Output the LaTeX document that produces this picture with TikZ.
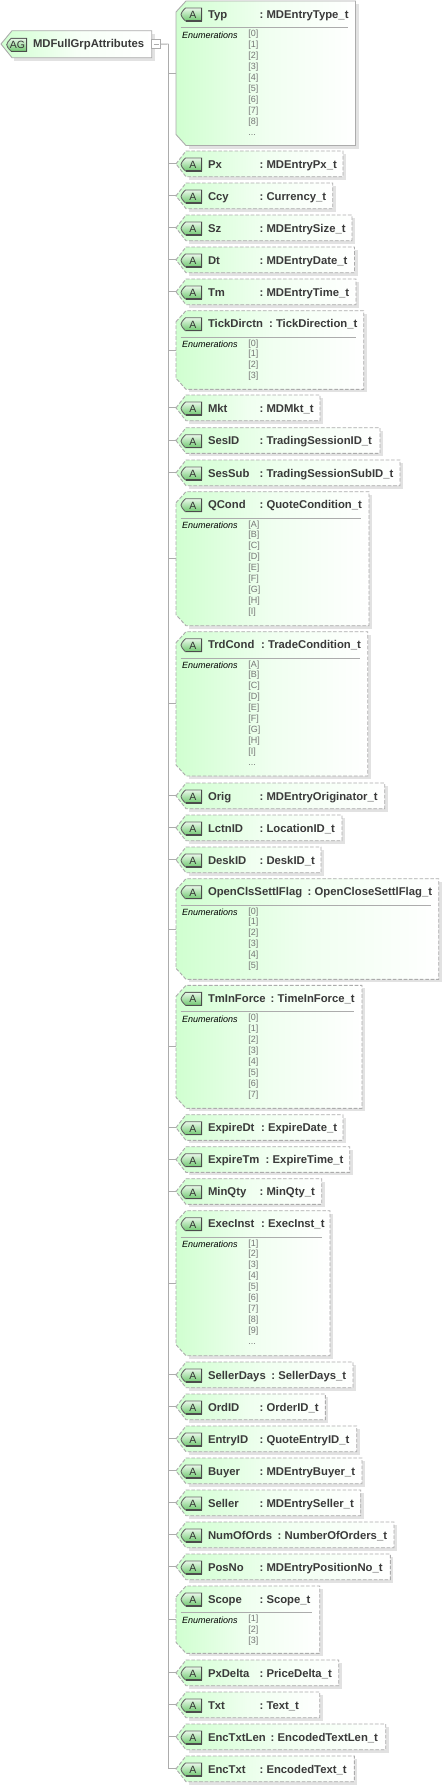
\documentclass[tikz,border=0pt]{standalone}
\usepackage{fontspec}
\setmainfont{Liberation Sans}
\usetikzlibrary{calc}
\definecolor{edge}{HTML}{ACACAC}
\definecolor{shadowc}{HTML}{E2E2E2}
\definecolor{lab}{HTML}{3A3A3A}
\definecolor{enumc}{HTML}{767676}
\definecolor{leftg}{HTML}{D0FFD0}
\definecolor{midg}{HTML}{F0FFF0}
\definecolor{icontop}{HTML}{E8F8E8}
\definecolor{iconbot}{HTML}{70C870}
\tikzset{
  x=1pt,y=-1pt,
  conn/.style={draw=edge,line width=0.9pt},
  boxfill/.style={left color=leftg,right color=white,middle color=midg},
  framesolid/.style={draw=edge,line width=0.9pt},
  framedash/.style={draw=edge,line width=0.9pt,dash pattern=on 3.6pt off 1.8pt},
  anchorbox/.style={inner sep=0pt,outer sep=0pt,draw=none,fill=none,anchor=north west},
  lbl/.style={inner sep=0pt,outer sep=0pt,anchor=base west,text=lab,font=\fontsize{11.3}{13}\selectfont\bfseries},
  enumhead/.style={inner sep=0pt,outer sep=0pt,anchor=base west,text=black,font=\fontsize{9}{11}\selectfont\itshape},
  enumval/.style={inner sep=0pt,outer sep=0pt,anchor=base west,text=enumc,font=\fontsize{9}{11}\selectfont},
  sepline/.style={draw=edge,line width=0.9pt},
  iconshape/.style={draw=black!60,line width=0.9pt,top color=icontop,bottom color=iconbot},
  icontext/.style={inner sep=0pt,outer sep=0pt,text=black!80,font=\fontsize{10.5}{12}\selectfont},
}
\newcommand{\icn}[3]{% x, top, width
  \shade[iconshape] (#1+4.5,#2) -- (#1+#3,#2) -- (#1+#3,#2+13) -- (#1+4.5,#2+13)
     .. controls (#1+1.5,#2+10) and (#1,#2+8) .. (#1,#2+6.5)
     .. controls (#1,#2+5) and (#1+1.5,#2+3) .. (#1+4.5,#2) -- cycle;
  \draw[black!70,line width=1.1pt] (#1+#3,#2) -- (#1+#3,#2+13) -- (#1+4.5,#2+13);
}
\newcommand{\attrbox}[9]{%
  \fill[shadowc] (189,#2+3) -- (#4+3,#2+3) -- (#4+3,#3+3) -- (189,#3+3) -- cycle;
  \shade[boxfill,#5] (176,#2+#9) -- (186,#2) -- (#4,#2) -- (#4,#3) -- (186,#3) -- (176,#3-#9) -- cycle;
  \path (176,#2) coordinate (#1-nw) (#4,#3) coordinate (#1-se);
  \coordinate (#1) at ($(#1-nw)!0.5!(#1-se)$);
  \icn{181}{#2+7}{20.7}
  \node[icontext] (#1-i) at (192.8,#2+13.7) {A};
  \node[lbl] (#1-n) at (208,#2+17) {#6};
  \node[lbl] (#1-c) at (#7,#2+17) {:};
  \node[lbl] (#1-t) at (#7+7,#2+17) {#8};
  \draw[conn] (trunk|-#1) -- (#1-nw|-#1);
}
\newcommand{\plainbox}[6]{\attrbox{#1}{#2}{#2+25.7}{#3}{framedash}{#4}{#5}{#6}{12.85}}
\newcommand{\enums}[4]{%
  \draw[sepline] (180.5,#2+26.6) -- (#3-8,#2+26.6);
  \node[enumhead] (#1-e) at (182,#2+37) {Enumerations};
  \foreach \vv [count=\kk from 0] in {#4} {
    \ifnum\kk=0 \def\yy{35.5}\else\pgfmathsetmacro{\yy}{35+11*\kk}\fi
    \node[enumval] (#1-v\kk) at (248.3,#2+\yy) {\vv};
  }
}
\newcommand{\enumdots}[3]{\node[enumval] (#1-dots) at (248.3,#2+35+11*#3) {...};}
\begin{document}
\begin{tikzpicture}
\useasboundingbox (0,0) rectangle (442,1786);
\fill[white] (0,0) rectangle (442,1786);
\coordinate (trunk) at (168.7,44);
\coordinate (trunkend) at (168.7,1768.8);
\draw[conn] (trunk) -- (trunkend);
% root
\fill[shadowc] (14,33.5) -- (155,33.5) -- (155,60.5) -- (14,60.5) -- cycle;
\shade[left color=leftg,right color=white,middle color=midg!60!white,draw=edge,line width=0.9pt] (1,44) -- (12,30.7) -- (151.7,30.7) -- (151.7,57.7) -- (12,57.7) -- cycle;
\icn{6.7}{38.3}{20}
\node[inner sep=0pt,outer sep=0pt,text=black!80,font=\fontsize{10.5}{12}\selectfont] (root-i) at (17.5,44.6) {AG};
\node[lbl] (root-n) at (33,47.5) {MDFullGrpAttributes};
\node[draw=edge,fill=white,line width=0.9pt,minimum width=9pt,minimum height=9pt,inner sep=0pt] (minus) at (156.2,44.2) {};
\draw[edge,line width=0.9pt] (153.5,44.2) -- (158.9,44.2);
\draw[conn] (minus.east) -- (trunk);
% boxes
\attrbox{typ}{1}{145.5}{355.5}{framesolid}{Typ}{259.5}{MDEntryType\_t}{11}
\enums{typ}{1}{355.5}{[0],[1],[2],[3],[4],[5],[6],[7],[8]}
\enumdots{typ}{1}{9}
\plainbox{px}{151}{343}{Px}{259.5}{MDEntryPx\_t}
\plainbox{ccy}{183}{332.7}{Ccy}{259.5}{Currency\_t}
\plainbox{sz}{215}{352}{Sz}{259.5}{MDEntrySize\_t}
\plainbox{dt}{247}{354.5}{Dt}{259.5}{MDEntryDate\_t}
\plainbox{tm}{279}{356}{Tm}{259.5}{MDEntryTime\_t}
\attrbox{tick}{310.7}{389.3}{363.7}{framedash}{TickDirctn}{269}{TickDirection\_t}{11}
\enums{tick}{310.7}{363.7}{[0],[1],[2],[3]}
\plainbox{mkt}{395}{320}{Mkt}{259.5}{MDMkt\_t}
\plainbox{sesid}{427.7}{380}{SesID}{259.5}{TradingSessionID\_t}
\plainbox{sessub}{460}{400}{SesSub}{259.5}{TradingSessionSubID\_t}
\attrbox{qcond}{491.7}{625.7}{369}{framedash}{QCond}{259.5}{QuoteCondition\_t}{11}
\enums{qcond}{491.7}{369}{[A],[B],[C],[D],[E],[F],[G],[H],[I]}
\attrbox{trd}{631.7}{776}{367.7}{framedash}{TrdCond}{261}{TradeCondition\_t}{11}
\enums{trd}{631.7}{367.7}{[A],[B],[C],[D],[E],[F],[G],[H],[I]}
\enumdots{trd}{631.7}{9}
\plainbox{orig}{783}{384.7}{Orig}{259.5}{MDEntryOriginator\_t}
\plainbox{lctn}{815}{342}{LctnID}{259.5}{LocationID\_t}
\plainbox{desk}{847}{321}{DeskID}{259.5}{DeskID\_t}
\attrbox{open}{878.7}{979.3}{438.7}{framedash}{OpenClsSettlFlag}{307.7}{OpenCloseSettlFlag\_t}{11}
\enums{open}{878.7}{438.7}{[0],[1],[2],[3],[4],[5]}
\attrbox{tif}{985.3}{1108.3}{362}{framedash}{TmInForce}{270.7}{TimeInForce\_t}{11}
\enums{tif}{985.3}{362}{[0],[1],[2],[3],[4],[5],[6],[7]}
\plainbox{expd}{1114.7}{343}{ExpireDt}{261}{ExpireDate\_t}
\plainbox{expt}{1146.7}{349.7}{ExpireTm}{265.7}{ExpireTime\_t}
\plainbox{minq}{1178.7}{321.7}{MinQty}{259.5}{MinQty\_t}
\attrbox{exec}{1210.7}{1355.7}{330}{framedash}{ExecInst}{261}{ExecInst\_t}{11}
\enums{exec}{1210.7}{330}{[1],[2],[3],[4],[5],[6],[7],[8],[9]}
\enumdots{exec}{1210.7}{9}
\plainbox{sdays}{1362}{353}{SellerDays}{271.3}{SellerDays\_t}
\plainbox{ordid}{1394}{325.3}{OrdID}{259.5}{OrderID\_t}
\plainbox{entry}{1426}{356.7}{EntryID}{259.5}{QuoteEntryID\_t}
\plainbox{buyer}{1458}{362}{Buyer}{259.5}{MDEntryBuyer\_t}
\plainbox{seller}{1490}{360.7}{Seller}{259.5}{MDEntrySeller\_t}
\plainbox{numo}{1522}{394}{NumOfOrds}{277.7}{NumberOfOrders\_t}
\plainbox{posno}{1554}{390.3}{PosNo}{259.5}{MDEntryPositionNo\_t}
\attrbox{scope}{1586}{1653.3}{319.7}{framedash}{Scope}{259.5}{Scope\_t}{11}
\enums{scope}{1586}{319.7}{[1],[2],[3]}
\plainbox{pxd}{1660}{338.7}{PxDelta}{259.5}{PriceDelta\_t}
\plainbox{txt}{1692}{319.7}{Txt}{259.5}{Text\_t}
\plainbox{etl}{1724}{385.7}{EncTxtLen}{270.7}{EncodedTextLen\_t}
\plainbox{enc}{1756}{354.3}{EncTxt}{259.5}{EncodedText\_t}
\end{tikzpicture}
\end{document}
